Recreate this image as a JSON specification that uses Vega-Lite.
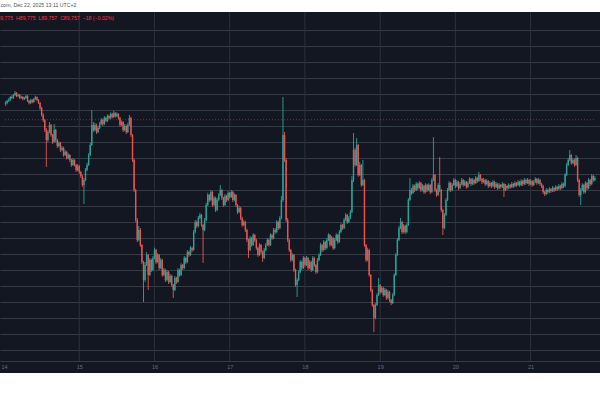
{
  "$schema": "https://vega.github.io/schema/vega-lite/v6.json",
  "width": 600,
  "height": 361,
  "autosize": {"type": "none"},
  "padding": {"top": 12, "bottom": 27, "left": 0, "right": 0},
  "background": "#ffffff",
  "config": {"view": {"fill": "#131722", "stroke": null}, "font": "Liberation Sans"},
  "title": {"text": "TradingView.com, Dec 22, 2025 13:11 UTC+2", "anchor": "start", "frame": "group", "fontSize": 5.2, "fontWeight": "normal", "font": "Liberation Sans", "color": "#555555", "offset": 3, "dx": -29},
  "encoding": {
    "x": {"field": "t", "type": "quantitative", "title": null, "scale": {"domain": [0.31, 188.55], "nice": false, "zero": false}, "axis": {"values": [0, 24, 48, 72, 96, 120, 144, 168], "labelExpr": "'' + (datum.value / 24 + 14)", "offset": -12, "grid": false, "ticks": false, "domain": true, "domainColor": "#363a45", "labelColor": "#6a6d78", "labelFontSize": 5.5, "labelFont": "Liberation Sans", "labelPadding": 3, "labelFlush": false, "labelOverlap": false, "labelBound": false}},
    "y": {"field": "l", "type": "quantitative", "title": null, "scale": {"domain": [83425, 92450], "nice": false, "zero": false}, "axis": {"values": [84000, 84400, 84800, 85200, 85600, 86000, 86400, 86800, 87200, 87600, 88000, 88400, 88800, 89200, 89600, 90000, 90400, 90800, 91200, 91600, 92000], "grid": true, "gridColor": "#363a45", "gridWidth": 1, "labels": false, "ticks": false, "domain": false}}
  },
  "layer": [
    {
      "data": {"values": [{"t": 24, "l": 92450, "h": 83725}, {"t": 48, "l": 92450, "h": 83725}, {"t": 72, "l": 92450, "h": 83725}, {"t": 96, "l": 92450, "h": 83725}, {"t": 120, "l": 92450, "h": 83725}, {"t": 144, "l": 92450, "h": 83725}, {"t": 168, "l": 92450, "h": 83725}]},
      "mark": {"type": "rule", "color": "#2e323d", "strokeWidth": 1},
      "encoding": {"y2": {"field": "h"}}
    },
    {
      "data": {"values": [{"t": 0.31, "t2": 188.55, "l": 89757}]},
      "mark": {"type": "rule", "color": "#f23645", "strokeWidth": 1, "strokeDash": [1, 2], "opacity": 0.55},
      "encoding": {"x2": {"field": "t2"}}
    },
    {
      "data": {"values": "t,o,h,l,c\n0.5,90150,90225,90100,90175\n1,90175,90260,90140,90225\n1.5,90225,90300,90200,90250\n2,90250,90350,90230,90325\n2.5,90325,90370,90270,90300\n3,90300,90400,90280,90375\n3.5,90375,90475,90350,90425\n4,90425,90450,90320,90350\n4.5,90350,90410,90320,90375\n5,90375,90400,90270,90300\n5.5,90300,90360,90280,90325\n6,90325,90350,90240,90275\n6.5,90275,90330,90250,90300\n7,90300,90380,90280,90350\n7.5,90350,90370,90200,90225\n8,90225,90250,90140,90175\n8.5,90175,90280,90150,90250\n9,90250,90270,90170,90200\n9.5,90200,90300,90180,90275\n10,90275,90360,90250,90325\n10.5,90325,90340,90220,90250\n11,90250,90270,90150,90175\n11.5,90175,90200,90000,90050\n12,90050,90080,89840,89875\n12.5,89875,89920,89700,89750\n13,89750,89780,89450,89500\n13.5,89500,89550,88575,89250\n14,89250,89500,89200,89450\n14.5,89450,89700,89420,89625\n15,89625,89650,89330,89375\n15.5,89375,89400,89150,89200\n16,89200,89650,89180,89500\n16.5,89500,89530,89200,89250\n17,89250,89280,89050,89100\n17.5,89100,89220,89070,89175\n18,89175,89200,88950,89000\n18.5,89000,89100,88970,89050\n19,89050,89080,88830,88875\n19.5,88875,89000,88850,88950\n20,88950,88980,88760,88800\n20.5,88800,88920,88770,88875\n21,88875,88900,88700,88750\n21.5,88750,88780,88580,88625\n22,88625,88800,88600,88750\n22.5,88750,88770,88590,88625\n23,88625,88650,88450,88500\n23.5,88500,88650,88470,88600\n24,88600,88620,88400,88450\n24.5,88450,88480,88300,88350\n25,88350,88380,88080,88125\n25.5,88125,88300,87650,88250\n26,88250,88550,88220,88500\n26.5,88500,88680,88470,88625\n27,88625,88920,88600,88875\n27.5,88875,89180,88850,89125\n28,89125,90000,89100,89625\n28.5,89625,89700,89450,89500\n29,89500,89680,89470,89625\n29.5,89625,89660,89400,89450\n30,89450,89600,89420,89550\n30.5,89550,89700,89520,89650\n31,89650,89800,89620,89750\n31.5,89750,89780,89600,89650\n32,89650,89850,89620,89800\n32.5,89800,89830,89690,89725\n33,89725,89890,89700,89850\n33.5,89850,89880,89760,89800\n34,89800,89940,89770,89900\n34.5,89900,89930,89790,89825\n35,89825,89980,89800,89925\n35.5,89925,89950,89810,89850\n36,89850,89940,89820,89900\n36.5,89900,89920,89760,89800\n37,89800,89830,89580,89625\n37.5,89625,89740,89600,89700\n38,89700,89720,89450,89500\n38.5,89500,89650,89470,89600\n39,89600,89630,89400,89450\n39.5,89450,89680,89420,89625\n40,89625,89875,89600,89800\n40.5,89800,89830,89330,89375\n41,89375,89400,88700,88750\n41.5,88750,88780,87950,88000\n42,88000,88030,87200,87250\n42.5,87250,87300,86700,86750\n43,86750,87100,86720,87000\n43.5,87000,87050,86580,86625\n44,86625,86650,86150,86200\n44.5,86200,86230,85200,85750\n45,85750,86200,85700,86125\n45.5,86125,86450,86100,86375\n46,86375,86400,85500,85875\n46.5,85875,86300,85850,86250\n47,86250,86280,85950,86000\n47.5,86000,86350,85970,86300\n48,86300,86560,86270,86500\n48.5,86500,86530,86150,86200\n49,86200,86420,86170,86375\n49.5,86375,86400,86000,86050\n50,86050,86300,86020,86250\n50.5,86250,86280,85830,85875\n51,85875,86050,85850,86000\n51.5,86000,86030,85700,85750\n52,85750,86000,85720,85950\n52.5,85950,85980,85650,85700\n53,85700,85900,85670,85850\n53.5,85850,85880,85580,85625\n54,85625,85650,85300,85500\n54.5,85500,85850,85470,85800\n55,85800,85830,85650,85700\n55.5,85700,86050,85680,86000\n56,86000,86030,85830,85875\n56.5,85875,86170,85850,86125\n57,86125,86150,86000,86050\n57.5,86050,86350,86020,86300\n58,86300,86330,86150,86200\n58.5,86200,86500,86170,86450\n59,86450,86480,86330,86375\n59.5,86375,86600,86350,86550\n60,86550,86580,86450,86500\n60.5,86500,87000,86480,86950\n61,86950,87250,86920,87200\n61.5,87200,87230,87050,87100\n62,87100,87350,87070,87300\n62.5,87300,87430,87270,87375\n63,87375,87400,87080,87125\n63.5,87125,87150,86175,87000\n64,87000,87300,86970,87250\n64.5,87250,87680,87220,87625\n65,87625,87930,87600,87875\n65.5,87875,87900,87700,87750\n66,87750,88000,87720,87950\n66.5,87950,87980,87580,87625\n67,87625,87850,87600,87800\n67.5,87800,87830,87450,87500\n68,87500,87800,87470,87750\n68.5,87750,87920,87720,87875\n69,87875,88125,87850,88000\n69.5,88000,88030,87750,87800\n70,87800,87830,87580,87625\n70.5,87625,87900,87600,87850\n71,87850,87880,87700,87750\n71.5,87750,87970,87720,87925\n72,87925,87950,87780,87825\n72.5,87825,88000,87800,87950\n73,87950,87980,87700,87750\n73.5,87750,87920,87720,87875\n74,87875,87900,87580,87625\n74.5,87625,87650,87400,87450\n75,87450,87600,87420,87550\n75.5,87550,87580,87250,87300\n76,87300,87330,87080,87125\n76.5,87125,87250,87100,87200\n77,87200,87230,86950,87000\n77.5,87000,87030,86700,86750\n78,86750,86780,86300,86500\n78.5,86500,86850,86470,86800\n79,86800,86830,86580,86625\n79.5,86625,86920,86600,86875\n80,86875,86900,86700,86750\n80.5,86750,86780,86500,86550\n81,86550,86580,86330,86375\n81.5,86375,86670,86350,86625\n82,86625,86650,86400,86450\n82.5,86450,86480,86200,86300\n83,86300,86550,86270,86500\n83.5,86500,86670,86470,86625\n84,86625,86800,86600,86750\n84.5,86750,86780,86580,86625\n85,86625,86920,86600,86875\n85.5,86875,86900,86750,86800\n86,86800,87050,86770,87000\n86.5,87000,87050,86900,86950\n87,86950,87250,86920,87200\n87.5,87200,87230,87000,87050\n88,87050,87350,87020,87300\n88.5,87300,87850,87270,87750\n89,87750,90325,87700,89375\n89.5,89375,89450,88700,88750\n90,88750,88800,87200,87250\n90.5,87250,87300,86700,86750\n91,86750,86780,86450,86500\n91.5,86500,86530,86200,86250\n92,86250,86420,86220,86375\n92.5,86375,86400,85950,86000\n93,86000,86030,85580,85625\n93.5,85625,85800,85325,85750\n94,85750,86000,85720,85950\n94.5,85950,86250,85920,86200\n95,86200,86230,86000,86050\n95.5,86050,86350,86020,86300\n96,86300,86330,86080,86125\n96.5,86125,86350,86100,86300\n97,86300,86330,86000,86050\n97.5,86050,86250,86020,86200\n98,86200,86230,85950,86000\n98.5,86000,86350,85970,86300\n99,86300,86330,86080,86125\n99.5,86125,86150,85900,85950\n100,85950,86300,85920,86250\n100.5,86250,86420,86220,86375\n101,86375,86680,86350,86625\n101.5,86625,86650,86450,86500\n102,86500,86750,86470,86700\n102.5,86700,86730,86500,86550\n103,86550,86800,86520,86750\n103.5,86750,86920,86720,86875\n104,86875,86900,86580,86625\n104.5,86625,86850,86600,86800\n105,86800,86830,86500,86550\n105.5,86550,86800,86520,86750\n106,86750,86920,86720,86875\n106.5,86875,86900,86650,86700\n107,86700,87000,86680,86950\n107.5,86950,87170,86920,87125\n108,87125,87150,87000,87050\n108.5,87050,87300,87020,87250\n109,87250,87420,87220,87375\n109.5,87375,87400,87150,87200\n110,87200,87350,87170,87300\n110.5,87300,87500,87270,87450\n111,87450,88350,87420,88250\n111.5,88250,89425,88200,89000\n112,89000,89050,88580,88625\n112.5,88625,89300,88600,89125\n113,89125,89150,88330,88375\n113.5,88375,88700,88350,88625\n114,88625,88650,88080,88125\n114.5,88125,88750,88100,88250\n115,88250,88280,86580,86625\n115.5,86625,86650,86200,86250\n116,86250,86560,86220,86500\n116.5,86500,86530,85830,85875\n117,85875,85900,85450,85500\n117.5,85500,85530,85080,85125\n118,85125,85150,84450,84800\n118.5,84800,85170,84770,85125\n119,85125,85420,85100,85375\n119.5,85375,85800,85350,85625\n120,85625,85650,85400,85450\n120.5,85450,85600,85420,85550\n121,85550,85580,85330,85375\n121.5,85375,85550,85350,85500\n122,85500,85530,85250,85300\n122.5,85300,85500,85270,85450\n123,85450,85480,85200,85250\n123.5,85250,85280,85120,85175\n124,85175,85420,85150,85375\n124.5,85375,85920,85350,85875\n125,85875,86420,85850,86375\n125.5,86375,86800,86350,86750\n126,86750,87100,86720,87050\n126.5,87050,87300,87020,87200\n127,87200,87230,86900,86950\n127.5,86950,87150,86920,87100\n128,87100,87130,86900,86950\n128.5,86950,87170,86920,87125\n129,87125,87800,87100,87750\n129.5,87750,88300,87720,88000\n130,88000,88050,87880,87925\n130.5,87925,88150,87900,88100\n131,88100,88130,87950,88000\n131.5,88000,88200,87970,88150\n132,88150,88180,88000,88050\n132.5,88050,88220,88020,88175\n133,88175,88200,87950,88000\n133.5,88000,88150,87970,88100\n134,88100,88130,87900,87950\n134.5,87950,88170,87920,88125\n135,88125,88150,87950,88000\n135.5,88000,88170,87970,88125\n136,88125,88150,87900,87950\n136.5,87950,88300,87920,88250\n137,88250,89325,88220,88375\n137.5,88375,88400,87950,88000\n138,88000,88030,87830,87875\n138.5,87875,88170,87850,88125\n139,88125,88825,87950,88000\n139.5,88000,88030,87450,87500\n140,87500,87530,86875,87050\n140.5,87050,87420,87020,87375\n141,87375,87800,87350,87750\n141.5,87750,88050,87720,88000\n142,88000,88220,87970,88175\n142.5,88175,88200,87950,88000\n143,88000,88170,87970,88125\n143.5,88125,88300,88100,88250\n144,88250,88280,88050,88100\n144.5,88100,88250,88070,88200\n145,88200,88230,88000,88050\n145.5,88050,88200,88020,88150\n146,88150,88300,88120,88250\n146.5,88250,88280,88080,88125\n147,88125,88250,88100,88200\n147.5,88200,88230,88030,88075\n148,88075,88220,88050,88175\n148.5,88175,88320,88150,88275\n149,88275,88300,88100,88150\n149.5,88150,88300,88120,88250\n150,88250,88280,88130,88175\n150.5,88175,88350,88150,88300\n151,88300,88330,88180,88225\n151.5,88225,88450,88200,88375\n152,88375,88400,88230,88275\n152.5,88275,88300,88150,88200\n153,88200,88300,88170,88250\n153.5,88250,88280,88100,88150\n154,88150,88270,88120,88225\n154.5,88225,88250,88050,88100\n155,88100,88220,88070,88175\n155.5,88175,88200,88050,88100\n156,88100,88250,88070,88200\n156.5,88200,88230,88030,88075\n157,88075,88200,88050,88150\n157.5,88150,88180,88000,88050\n158,88050,88170,88020,88125\n158.5,88125,88150,88030,88075\n159,88075,88200,88050,88150\n159.5,88150,88180,87825,88000\n160,88000,88150,87970,88100\n160.5,88100,88130,88000,88050\n161,88050,88170,88020,88125\n161.5,88125,88150,88030,88075\n162,88075,88200,88050,88150\n162.5,88150,88180,88050,88100\n163,88100,88220,88070,88175\n163.5,88175,88200,88080,88125\n164,88125,88250,88100,88200\n164.5,88200,88230,88080,88125\n165,88125,88270,88100,88225\n165.5,88225,88250,88100,88150\n166,88150,88300,88120,88250\n166.5,88250,88280,88130,88175\n167,88175,88300,88150,88250\n167.5,88250,88280,88100,88150\n168,88150,88270,88120,88225\n168.5,88225,88250,88080,88125\n169,88125,88250,88100,88200\n169.5,88200,88320,88170,88275\n170,88275,88300,88130,88175\n170.5,88175,88300,88150,88250\n171,88250,88280,88100,88150\n171.5,88150,88180,88050,88100\n172,88100,88130,87900,87950\n172.5,87950,87980,87850,87900\n173,87900,88050,87870,88000\n173.5,88000,88030,87900,87950\n174,87950,88070,87920,88025\n174.5,88025,88050,87930,87975\n175,87975,88100,87950,88050\n175.5,88050,88080,87950,88000\n176,88000,88120,87970,88075\n176.5,88075,88100,87980,88025\n177,88025,88150,88000,88100\n177.5,88100,88130,88000,88050\n178,88050,88200,88020,88150\n178.5,88150,88180,88050,88100\n179,88100,88420,88070,88375\n179.5,88375,88680,88350,88625\n180,88625,88800,88600,88750\n180.5,88750,89000,88720,88875\n181,88875,88900,88630,88675\n181.5,88675,88800,88650,88750\n182,88750,88780,88580,88625\n182.5,88625,88875,88600,88800\n183,88800,88830,88200,88250\n183.5,88250,88280,87830,87875\n184,87875,88050,87625,88000\n184.5,88000,88170,87970,88125\n185,88125,88150,87900,87950\n185.5,87950,88220,87920,88175\n186,88175,88200,88000,88050\n186.5,88050,88300,88020,88250\n187,88250,88280,88100,88150\n187.5,88150,88400,88120,88350\n188,88350,88380,88200,88250\n188.5,88250,88350,88220,88300", "format": {"type": "csv", "parse": {"t": "number", "o": "number", "h": "number", "l": "number", "c": "number"}}},
      "encoding": {
        "color": {"condition": {"test": "datum.c >= datum.o", "value": "#26a69a"}, "value": "#ef5350"}
      },
      "layer": [
        {
          "mark": {"type": "rule", "strokeWidth": 0.9},
          "encoding": {"y2": {"field": "h"}}
        },
        {
          "mark": {"type": "bar", "size": 1.4},
          "encoding": {
            "y": {"field": "o", "type": "quantitative", "title": null},
            "y2": {"field": "c"}
          }
        }
      ]
    },
    {
      "data": {"values": [{"t": -3.45, "l": 92262}]},
      "mark": {"type": "text", "align": "left", "baseline": "alphabetic", "fontSize": 5.2, "color": "#f23645", "font": "Liberation Sans"},
      "encoding": {
        "text": {"value": "O89,775\u00a0\u00a0H89,775\u00a0\u00a0L89,757\u00a0\u00a0C89,757\u00a0\u00a0−18 (−0.02%)"}
      }
    }
  ]
}
